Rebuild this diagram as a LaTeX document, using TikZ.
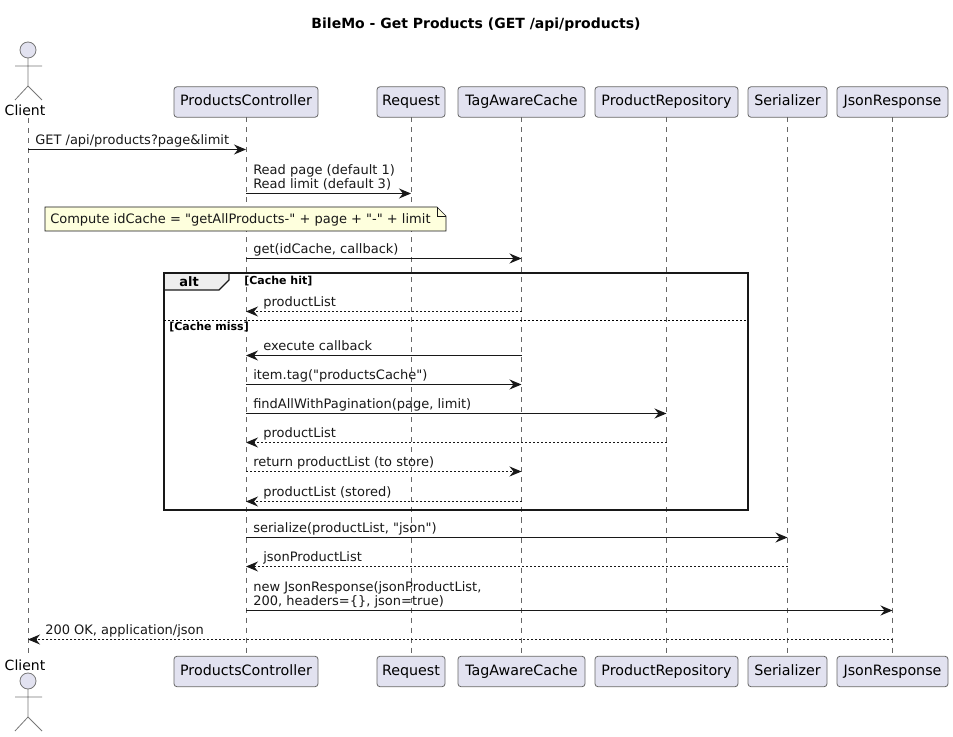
\documentclass[tikz,border=0pt]{standalone}
\usepackage{fontspec}
\setmainfont{DejaVu Sans}[Ligatures=TeXOff]
\usepackage{xcolor}
\usetikzlibrary{arrows.meta}
\definecolor{boxFill}{HTML}{E2E2F0}
\definecolor{lineDark}{HTML}{181818}
\definecolor{lifeGray}{HTML}{666666}
\definecolor{actorGray}{HTML}{777777}
\definecolor{noteFill}{HTML}{FEFFDD}
\definecolor{tabFill}{HTML}{EEEEEE}
\tikzset{
  partbox/.style={draw=lifeGray, fill=boxFill, rounded corners=2.2pt, line width=0.6pt, inner sep=0pt,
    font=\fontsize{10.7pt}{12pt}\selectfont, text height=8pt, text depth=2.2pt, minimum height=22.8pt},
  lifeline/.style={lifeGray, line width=0.5pt, dash pattern=on 3.75pt off 3.75pt},
  actorline/.style={draw=actorGray, line width=0.6pt},
  solidmsg/.style={lineDark, line width=0.75pt, -{Stealth[length=9pt,width=7.5pt,inset=3pt]}},
  dashmsg/.style={solidmsg, dash pattern=on 1.5pt off 1.5pt},
  msglabel/.style={anchor=south west, inner sep=0pt, align=left, text=lineDark, text depth=2.2pt,
    font=\fontsize{9.75pt}{10.9pt}\selectfont},
  guardlabel/.style={anchor=west, inner sep=0pt, font=\fontsize{8.25pt}{10pt}\selectfont\bfseries},
}
\begin{document}
\begin{tikzpicture}[x=0.75pt,y=-0.75pt]
  \useasboundingbox (0,0) rectangle (953,737);
  \node[font=\fontsize{10.5pt}{12pt}\selectfont\bfseries] (title) at (476,24.5) {BileMo - Get Products (GET /api/products)};
  % participants, top and bottom
  \foreach \p/\x/\w/\txt in {ctrl/246/144/ProductsController,req/411/68/Request,cache/521.5/127/TagAwareCache,repo/666.5/143/ProductRepository,ser/787.5/79/Serializer,json/892.5/111/JsonResponse} {
    \node[partbox, minimum width=\w*0.75pt] (\p) at (\x,102) {\txt};
    \node[partbox, minimum width=\w*0.75pt] (\p b) at (\x,671.5) {\txt};
    \draw[lifeline] (\p) ++(0,15.5) coordinate (\p s) -- (\p s |- \p b.north);
  }
  % client actor
  \coordinate (client) at (28,118);
  \coordinate (client b) at (28,656);
  \draw[lifeline] (client) -- (client b);
  \foreach \n/\top/\lbl in {clientTop/50/110,clientBot/681/665} {
    \node[font=\fontsize{10.5pt}{12pt}\selectfont, inner sep=0pt] (\n) at (25,\lbl) {Client};
    \draw[actorline, fill=boxFill] (28,\top) circle (8);
    \draw[actorline] (28,\top+8) -- (28,\top+36) (15,\top+16) -- (42,\top+16)
      (15,\top+50) -- (28,\top+36) -- (42,\top+50);
  }
  % note
  \draw[draw=lineDark, line width=0.4pt, fill=noteFill] (45,207) -- (437,207) -- (446,216) -- (446,231) -- (45,231) -- cycle;
  \draw[draw=lineDark, line width=0.4pt] (437,207) -- (437,216) -- (446,216);
  \node[msglabel, anchor=west, text depth=2pt, text height=7.4pt] (note) at (50,219.5) {Compute idCache = "getAllProducts-" + page + "-" + limit};
  % alt frame
  \draw[fill=tabFill, line width=1pt, draw=lineDark] (164,273) -- (229,273) -- (229,280) -- (219,290) -- (164,290) -- cycle;
  \draw[line width=1.5pt, draw=lineDark] (164,273) rectangle (748,510);
  \draw[line width=0.75pt, dash pattern=on 1.5pt off 1.5pt] (164,320.5) -- (748,320.5);
  \node[font=\fontsize{9.75pt}{11pt}\selectfont\bfseries, inner sep=0pt] (alt) at (189,282) {alt};
  \node[guardlabel] (hit) at (244,281.5) {[Cache hit]};
  \node[guardlabel] (miss) at (169,327.5) {[Cache miss]};
  % messages
  \foreach \n/\from/\to/\y/\kind/\lx/\txt in {
    1/client/ctrl/149.5/solidmsg/35/{GET /api/products?page\&limit},
    2/ctrl/req/193.5/solidmsg/253/{Read page (default 1)\\Read limit (default 3)},
    3/ctrl/cache/258.5/solidmsg/253/{get(idCache, callback)},
    4/cache/ctrl/311.5/dashmsg/263/{productList},
    5/cache/ctrl/355.5/solidmsg/263/{execute callback},
    6/ctrl/cache/384.5/solidmsg/253/{item.tag("productsCache")},
    7/ctrl/repo/413.5/solidmsg/253/{findAllWithPagination(page, limit)},
    8/repo/ctrl/442.5/dashmsg/263/{productList},
    9/ctrl/cache/471.5/dashmsg/253/{return productList (to store)},
    10/cache/ctrl/501.5/dashmsg/263/{productList (stored)},
    11/ctrl/ser/537.5/solidmsg/253/{serialize(productList, "json")},
    12/ser/ctrl/566.5/dashmsg/263/{jsonProductList},
    13/ctrl/json/610.5/solidmsg/253/{new JsonResponse(jsonProductList,\\200, headers=\{\}, json=true)},
    14/json/client/639.5/dashmsg/45/{200 OK, application/json}} {
    \coordinate (m\n a) at (\from |- 0,\y);
    \coordinate (m\n b) at (\to |- 0,\y);
    \draw[\kind] (m\n a) -- (m\n b);
    \node[msglabel] (l\n) at (\lx,\y-1.5) {\txt};
  }
\end{tikzpicture}
\end{document}
